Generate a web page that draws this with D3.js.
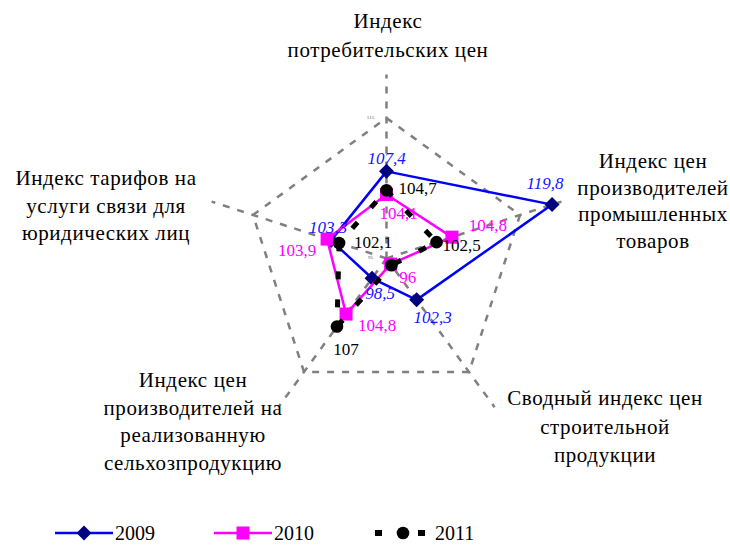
<!DOCTYPE html>
<html>
<head>
<meta charset="utf-8">
<script src="https://cdn.jsdelivr.net/npm/d3@7"></script>
</head>
<body style="margin:0">
<svg id="radar" width="730" height="545"></svg>
<script>
// categories (clockwise from the top), one line per entry
const categories = [
  ["Индекс", "потребительских цен"],
  ["Индекс цен", "производителей", "промышленных", "товаров"],
  ["Сводный индекс цен", "строительной", "продукции"],
  ["Индекс цен", "производителей на", "реализованную", "сельхозпродукцию"],
  ["Индекс тарифов на", "услуги связи для", "юридических лиц"]
];
const years = ["2009", "2010", "2011"];
const values2009 = [107.4, 119.8, 102.3, 98.5, 103.3];
const values2010 = [104.1, 104.8, 96, 104.8, 103.9];
const values2011 = [104.7, 102.5, 96.2, 107, 102.1];
const axisTicks = [95, 115];
const axisEnd = 121.2;

const FONT = "Tinos, 'Liberation Serif', serif";

// layout
const cx = 386.5, cy = 258.4;
const svg = d3.select("#radar");
const g = svg.append("g").attr("transform", `translate(${cx},${cy})`);

const r = d3.scaleLinear().domain([95, 115]).range([0, 140.4]);
const angle = i => i * 2 * Math.PI / categories.length;
const px = (v, i) => r(v) * Math.sin(angle(i));
const py = (v, i) => -r(v) * Math.cos(angle(i));
const comma = v => d3.format("")(v).replace(".", ",");

const radial = d3.lineRadial()
  .angle((d, i) => angle(i))
  .radius(d => r(d))
  .curve(d3.curveLinearClosed);

// grid
const grey = "#808080";
g.append("path")
  .datum(categories.map(() => axisTicks[1]))
  .attr("d", radial)
  .attr("fill", "none")
  .attr("stroke", grey)
  .attr("stroke-width", 2.5)
  .attr("stroke-dasharray", "7,8");

g.selectAll(".spoke")
  .data(categories)
  .join("line")
    .attr("x1", 0).attr("y1", 0)
    .attr("x2", (d, i) => px(axisEnd, i))
    .attr("y2", (d, i) => py(axisEnd, i))
    .attr("stroke", grey)
    .attr("stroke-width", 2.5)
    .attr("stroke-dasharray", "7,8");

g.selectAll(".tick")
  .data(axisTicks)
  .join("text")
    .attr("x", -16)
    .attr("y", d => -r(d) + 1)
    .attr("font-size", 5)
    .attr("fill", "#555")
    .attr("text-anchor", "middle")
    .style("font-family", FONT)
    .text(d => d);

// series
const series = [
  { name: years[0], values: values2009, line: "#0000ff", marker: "#000080", label: "#1414ff", italic: true, shape: "diamond",
    offsets: [[0, -13], [-7, -22], [16, 17], [8, 15], [-3, -13]] },
  { name: years[1], values: values2010, line: "#ff00ff", marker: "#ff00ff", label: "#ff00ff", italic: false, shape: "square",
    offsets: [[12, 18], [36, -12], [17, 13], [31, 11], [-30, 11]] },
  { name: years[2], values: values2011, line: "#000000", marker: "#000000", label: "#000000", italic: false, shape: "circle",
    dash: "8,20", offsets: [[31, -2], [25, 3], null, [9, 22], [34, -1]] }
];

function marker(sel, shape, color) {
  if (shape === "diamond") {
    sel.append("path").attr("d", "M0,-7.5L7.5,0L0,7.5L-7.5,0Z").attr("fill", color);
  } else if (shape === "square") {
    sel.append("rect").attr("x", -6.5).attr("y", -6.5).attr("width", 13).attr("height", 13).attr("fill", color);
  } else {
    sel.append("circle").attr("r", 6.3).attr("fill", color);
  }
}

series.forEach(s => {
  g.append("path")
    .datum(s.values)
    .attr("d", radial)
    .attr("fill", "none")
    .attr("stroke", s.line)
    .attr("stroke-width", s.dash ? 5 : 2.5)
    .attr("stroke-dasharray", s.dash || null)
    .attr("stroke-linejoin", "round");

  s.values.forEach((v, i) => {
    const m = g.append("g").attr("transform", `translate(${px(v, i)},${py(v, i)})`);
    marker(m, s.shape, s.marker);
  });
});

series.forEach(s => {
  s.values.forEach((v, i) => {
    const o = s.offsets[i];
    if (!o) return;
    g.append("text")
      .attr("x", px(v, i) + o[0])
      .attr("y", py(v, i) + o[1] + 6)
      .attr("text-anchor", "middle")
      .attr("font-size", 17)
      .attr("font-style", s.italic ? "italic" : "normal")
      .attr("fill", s.label)
      .style("font-family", FONT)
      .text(comma(v));
  });
});

// category labels
const catPos = [[388, 28, 28.5], [653, 168, 26.5], [605, 405, 28.5], [193, 387, 27.7], [106, 185, 27.5]];
categories.forEach((lines, i) => {
  const [x, y, lh] = catPos[i];
  lines.forEach((ln, j) => {
    svg.append("text")
      .attr("x", x)
      .attr("y", y + j * lh)
      .attr("text-anchor", "middle")
      .attr("font-size", 21)
      .attr("fill", "#000")
      .style("font-family", FONT)
      .style("letter-spacing", "0.6px")
      .text(ln);
  });
});

// legend
const legendX = [55, 214, 375];
const legend = svg.append("g").attr("transform", "translate(0,533)");
series.forEach((s, k) => {
  const x0 = legendX[k];
  const item = legend.append("g").attr("transform", `translate(${x0},0)`);
  item.append("line")
    .attr("x1", 0).attr("x2", s.dash ? 51 : 58)
    .attr("stroke", s.line)
    .attr("stroke-width", s.dash ? 6 : 2.5)
    .attr("stroke-dasharray", s.dash ? "7,36" : null);
  const m = item.append("g").attr("transform", `translate(${s.dash ? 28 : 29},0)`);
  marker(m, s.shape, s.marker);
  item.append("text")
    .attr("x", 60)
    .attr("y", 7)
    .attr("font-size", 20)
    .attr("fill", "#000")
    .style("font-family", FONT)
    .text(s.name);
});
</script>
</body>
</html>
